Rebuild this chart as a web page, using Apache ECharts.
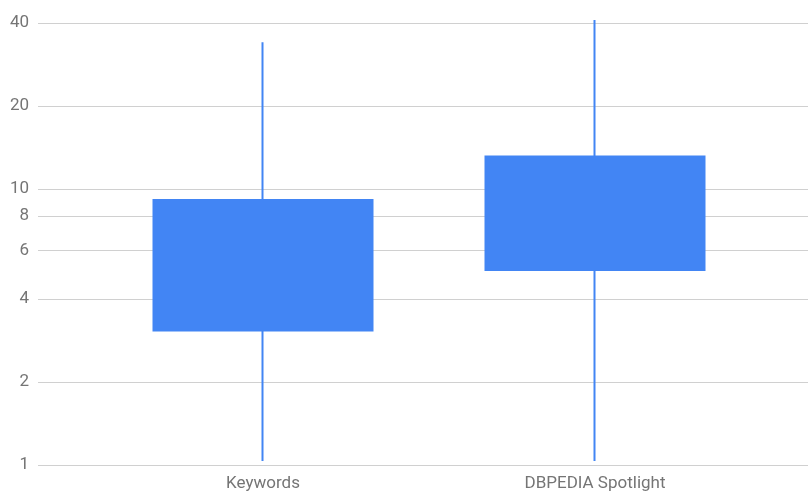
<!DOCTYPE html>
<html>
<head>
<meta charset="utf-8">
<script src="https://cdn.jsdelivr.net/npm/echarts@6/dist/echarts.min.js"></script>
<style>
html,body{margin:0;padding:0;background:#fff;}
#chart{width:808px;height:492px;}
</style>
</head>
<body>
<div id="chart"></div>
<script>
const categories = ['Keywords', 'DBPEDIA Spotlight'];
// [q1, q3, min, max]
const boxLow = [3, 5];
const boxHigh = [9, 13];
const whiskerLow = [1, 1];
const whiskerHigh = [34, 41];
const yTicks = [1, 2, 4, 6, 8, 10, 20, 40];

const data = categories.map((c, i) => [boxLow[i], boxHigh[i], whiskerLow[i], whiskerHigh[i]]);
const font = 'Roboto, "Noto Sans", Arial, sans-serif';
const blue = '#4285f4';

const chart = echarts.init(document.getElementById('chart'));
chart.setOption({
  animation: false,
  backgroundColor: '#fff',
  grid: [
    {left: 38, right: 0, top: 23, bottom: 27},
    {left: 97, right: 47, top: 23, bottom: 27}
  ],
  xAxis: [
    {type: 'value', gridIndex: 0, show: false, min: 0, max: 1},
    {
      type: 'category', gridIndex: 1, data: categories,
      axisLine: {show: false}, axisTick: {show: false},
      axisLabel: {color: '#757575', fontFamily: font, fontSize: 17, margin: 14}
    }
  ],
  yAxis: [
    {
      type: 'log', gridIndex: 0, logBase: 10, min: 1, max: 40,
      axisLine: {show: false},
      axisTick: {show: false, customValues: yTicks},
      axisLabel: {customValues: yTicks, color: '#757575', fontFamily: font, fontSize: 17, margin: 9},
      splitLine: {show: true, lineStyle: {color: '#d0d0d0', width: 1}}
    },
    {
      type: 'log', gridIndex: 1, logBase: 10, min: 1, max: 40,
      axisLine: {show: false}, axisTick: {show: false}, axisLabel: {show: false},
      splitLine: {show: false}
    }
  ],
  series: [{
    type: 'candlestick',
    xAxisIndex: 1, yAxisIndex: 1,
    clip: false,
    barWidth: 219,
    barMaxWidth: 219,
    data: data,
    itemStyle: {color: blue, color0: blue, borderColor: blue, borderColor0: blue, borderWidth: 2}
  }]
});
</script>
</body>
</html>
